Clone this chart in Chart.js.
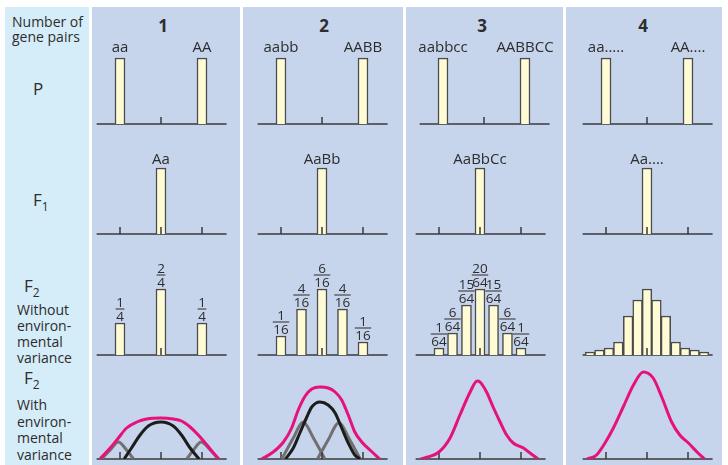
<!DOCTYPE html>
<html>
<head>
<meta charset="utf-8">
<script src="https://cdn.jsdelivr.net/npm/chart.js@4.4.0/dist/chart.umd.min.js"></script>
<style>
  body { margin: 0; width: 728px; height: 465px; position: relative; overflow: hidden; background: #fff;
         font-family: "Open Sans", sans-serif; color: #2d2d2d; }
  .side { position: absolute; left: 5px; top: 7px; width: 84px; height: 458px; background: #d5ecf9; }
  .col { position: absolute; top: 7px; height: 458px; background: #c6d4ec; }
  .t { position: absolute; white-space: nowrap; font-size: 14px; line-height: 16px; }
  .big { position: absolute; white-space: nowrap; font-size: 17px; line-height: 17px; }
  .big .sub { font-size: 12px; position: relative; top: 5px; }
  .head { position: absolute; width: 40px; text-align: center; font-size: 17px; line-height: 17px; font-weight: bold; top: 17px; }
  canvas { position: absolute; }
</style>
</head>
<body>
<div class="side"></div>
<div class="col" style="left:92px;width:148px"></div>
<div class="col" style="left:243px;width:160px"></div>
<div class="col" style="left:406px;width:157px"></div>
<div class="col" style="left:566px;width:156px"></div>

<div class="t" style="left:12px;top:13.6px">Number of</div>
<div class="t" style="left:12px;top:28.6px">gene pairs</div>
<div class="big" style="left:33px;top:80px">P</div>
<div class="big" style="left:33px;top:191px">F<span class="sub">1</span></div>
<div class="big" style="left:24px;top:277px">F<span class="sub">2</span></div>
<div class="t" style="left:17px;top:301.6px">Without</div>
<div class="t" style="left:17px;top:317.6px">environ-</div>
<div class="t" style="left:17px;top:333.6px">mental</div>
<div class="t" style="left:17px;top:349.6px">variance</div>
<div class="big" style="left:24px;top:369px">F<span class="sub">2</span></div>
<div class="t" style="left:17px;top:396.6px">With</div>
<div class="t" style="left:17px;top:413.6px">environ-</div>
<div class="t" style="left:17px;top:429.6px">mental</div>
<div class="t" style="left:17px;top:446.6px">variance</div>

<script>
// ---------------------------------------------------------------------------
// data
// ---------------------------------------------------------------------------
const pairCounts = ['1', '2', '3', '4'];

// P row
const parentLabels = [['aa', 'AA'], ['aabb', 'AABB'], ['aabbcc', 'AABBCC'], ['aa.....', 'AA....']];
const parentScores = [-1, 1];
const parentHeights = [66, 66];

// F1 row
const f1Labels = ['Aa', 'AaBb', 'AaBbCc', 'Aa....'];
const f1Scores = [0];
const f1Heights = [66];

// F2 without environmental variance
const f2Scores1 = [-1, 0, 1];
const f2Heights1 = [32, 66, 32];
const f2Fracs1 = ['1/4', '2/4', '1/4'];
const f2Scores2 = [-1, -0.5, 0, 0.5, 1];
const f2Heights2 = [19, 46, 66, 46, 13];
const f2Fracs2 = ['1/16', '4/16', '6/16', '4/16', '1/16'];
const f2Scores3 = [-1, -0.67, -0.33, 0, 0.33, 0.67, 1];
const f2Heights3 = [7, 22, 50, 66, 50, 22, 7];
const f2Fracs3 = ['1/64', '6/64', '15/64', '20/64', '15/64', '6/64', '1/64'];
const f2Scores4 = [-1.39, -1.16, -0.93, -0.7, -0.46, -0.23, 0, 0.23, 0.46, 0.7, 0.93, 1.16, 1.39];
const f2Heights4 = [3, 5, 7, 13, 39, 55, 66, 55, 39, 13, 7, 5, 3];

// F2 with environmental variance (curves)
const env1PinkX = [-1.49, -1.24, -1.04, -0.84, -0.59, -0.35, 0, 0.3, 0.5, 0.71, 0.91, 1.12, 1.28, 1.41];
const env1PinkY = [0, 11, 21, 31, 37, 40, 41, 40, 38, 32, 24, 14, 6, 0];
const env1BlackX = [-0.9, -0.72, -0.51, -0.31, 0, 0.3, 0.5, 0.71, 0.93];
const env1BlackY = [0, 11, 24, 33, 37, 33, 24, 11, 0];
const env1GrayLX = [-1.45, -1.24, -1.04, -0.84, -0.67];
const env1GrayLY = [0, 9, 17, 9, 0];
const env1GrayRX = [0.63, 0.79, 0.98, 1.2, 1.4];
const env1GrayRY = [0, 9, 17, 9, 0];

const env2PinkX = [-1.47, -1.19, -0.94, -0.74, -0.58, -0.41, -0.25, -0.05, 0.15, 0.32, 0.48, 0.64, 0.8, 0.97, 1.17, 1.41];
const env2PinkY = [0, 7, 17, 31, 49, 63, 70, 72, 71, 67, 59, 44, 27, 17, 9, 0];
const env2BlackX = [-0.89, -0.7, -0.54, -0.37, -0.25, -0.05, 0.15, 0.32, 0.48, 0.64, 0.8, 0.93];
const env2BlackY = [0, 11, 26, 42, 52, 57, 54, 46, 31, 16, 4, 0];
const env2GrayLX = [-0.98, -0.7, -0.46, -0.21, 0.07];
const env2GrayLY = [0, 21, 37, 21, 0];
const env2GrayRX = [-0.11, 0.15, 0.41, 0.68, 0.93];
const env2GrayRY = [0, 19, 36, 19, 0];

const env3PinkX = [-1.45, -1.27, -1.0, -0.73, -0.49, -0.24, -0.07, 0, 0.16, 0.32, 0.49, 0.65, 0.81, 1.06, 1.22, 1.42];
const env3PinkY = [0, 2, 7, 21, 44, 67, 78, 77, 67, 52, 37, 24, 16, 11, 6, 0];

const env4PinkX = [-1.46, -1.23, -1.01, -0.82, -0.58, -0.33, -0.09, 0.15, 0.36, 0.6, 0.8, 1.01, 1.22, 1.4];
const env4PinkY = [0, 4, 17, 31, 52, 74, 87, 81, 62, 37, 24, 16, 7, 0];

// ---------------------------------------------------------------------------
// layout / style
// ---------------------------------------------------------------------------
const UNIT = 41;                 // px per genotype step
const HALF = 75 / UNIT;          // canvas half width in steps
const AXIS_FROM = -1.57, AXIS_TO = 1.6;
const COL_CENTER = [161, 322, 480, 647];
const P_CENTER = [161, 322, 484, 647];
const HEAD_X = [163, 324, 482, 643];
const ROW = { p: [30, 96], f1: [145, 91], f2: [255, 102], env: [363, 98] };

const INK = '#2d2d2d';
const AXIS_COLOR = '#3a3a3a';
const BAR_FILL = '#fffbd5';
const BAR_BORDER = '#4a4a4a';
const PINK = '#e6127c';
const BLACK = '#1c1c1c';
const GRAY = '#707070';

pairCounts.forEach((n, i) => {
  const d = document.createElement('div');
  d.className = 'head';
  d.style.left = (HEAD_X[i] - 20) + 'px';
  d.textContent = n;
  document.body.appendChild(d);
});

function addCanvas(cx, top, h) {
  const c = document.createElement('canvas');
  c.width = 150; c.height = h;
  c.style.left = (cx - 75) + 'px';
  c.style.top = top + 'px';
  document.body.appendChild(c);
  return c;
}

function tick(ctx, x, y0) {
  ctx.beginPath();
  ctx.moveTo(x, y0);
  ctx.lineTo(x, y0 - 7);
  ctx.stroke();
}

// axis line, ticks and labels above bars
function decor(labels, kind, gap) {
  return {
    id: 'decor',
    beforeDatasetsDraw(chart) {
      const { ctx } = chart;
      const xs = chart.scales.x, y0 = chart.scales.y.getPixelForValue(0);
      ctx.save();
      ctx.strokeStyle = AXIS_COLOR;
      ctx.lineWidth = 1.5;
      ctx.beginPath();
      ctx.moveTo(xs.getPixelForValue(AXIS_FROM), y0);
      ctx.lineTo(xs.getPixelForValue(AXIS_TO), y0);
      ctx.stroke();
      tick(ctx, xs.getPixelForValue(-1), y0);
      tick(ctx, xs.getPixelForValue(1), y0);
      ctx.restore();
    },
    afterDatasetsDraw(chart) {
      const { ctx } = chart;
      const xs = chart.scales.x, y0 = chart.scales.y.getPixelForValue(0);
      ctx.save();
      ctx.strokeStyle = AXIS_COLOR;
      ctx.lineWidth = 1.5;
      tick(ctx, xs.getPixelForValue(0), y0);
      if (labels) {
        ctx.fillStyle = INK;
        ctx.strokeStyle = INK;
        ctx.textAlign = 'center';
        ctx.textBaseline = 'alphabetic';
        chart.getDatasetMeta(0).data.forEach((el, i) => {
          if (kind === 'text') {
            ctx.font = '15px "Open Sans"';
            ctx.fillText(labels[i], el.x, el.y - gap);
          } else {
            const [num, den] = labels[i].split('/');
            ctx.font = '13.5px "Open Sans"';
            const w = Math.max(ctx.measureText(num).width, ctx.measureText(den).width) + 1;
            ctx.fillText(den, el.x, el.y - 2.5);
            ctx.fillText(num, el.x, el.y - 16);
            ctx.lineWidth = 1;
            ctx.beginPath();
            ctx.moveTo(el.x - w / 2, el.y - 14);
            ctx.lineTo(el.x + w / 2, el.y - 14);
            ctx.stroke();
          }
        });
      }
      ctx.restore();
    }
  };
}

function options(h) {
  return {
    responsive: false,
    maintainAspectRatio: false,
    animation: false,
    events: [],
    layout: { padding: { left: 0, right: 0, top: 0, bottom: 2 } },
    plugins: { legend: { display: false }, tooltip: { enabled: false } },
    scales: {
      x: { type: 'linear', display: false, min: -HALF, max: HALF, offset: false },
      y: { display: false, min: 0, max: h - 2 }
    }
  };
}

function barChart(cx, row, scores, heights, labels, kind, gap, thickness) {
  const [top, h] = row;
  new Chart(addCanvas(cx, top, h), {
    type: 'bar',
    data: {
      datasets: [{
        data: scores.map((x, i) => ({ x, y: heights[i] })),
        backgroundColor: BAR_FILL,
        borderColor: BAR_BORDER,
        borderWidth: 1.5,
        barThickness: thickness
      }]
    },
    options: options(h),
    plugins: [decor(labels, kind, gap)]
  });
}

function curve(xs, ys, color) {
  return {
    data: xs.map((x, i) => ({ x, y: ys[i] })),
    borderColor: color,
    borderWidth: 3,
    pointRadius: 0,
    fill: false,
    cubicInterpolationMode: 'monotone'
  };
}

function curveChart(cx, row, datasets) {
  const [top, h] = row;
  new Chart(addCanvas(cx, top, h), {
    type: 'line',
    data: { datasets },
    options: options(h),
    plugins: [decor(null)]
  });
}

// P and F1 rows
for (let i = 0; i < 4; i++) {
  barChart(P_CENTER[i], ROW.p, parentScores, parentHeights, parentLabels[i], 'text', 6, 10);
  barChart(COL_CENTER[i], ROW.f1, f1Scores, f1Heights, [f1Labels[i]], 'text', 4, 10);
}

// F2 without environmental variance
barChart(COL_CENTER[0], ROW.f2, f2Scores1, f2Heights1, f2Fracs1, 'frac', 0, 10);
barChart(COL_CENTER[1], ROW.f2, f2Scores2, f2Heights2, f2Fracs2, 'frac', 0, 10);
barChart(COL_CENTER[2], ROW.f2, f2Scores3, f2Heights3, f2Fracs3, 'frac', 0, 10);
barChart(COL_CENTER[3], ROW.f2, f2Scores4, f2Heights4, null, 'frac', 0, 9.6);

// F2 with environmental variance
curveChart(COL_CENTER[0], ROW.env, [
  curve(env1PinkX, env1PinkY, PINK),
  curve(env1BlackX, env1BlackY, BLACK),
  curve(env1GrayLX, env1GrayLY, GRAY),
  curve(env1GrayRX, env1GrayRY, GRAY)
]);
curveChart(COL_CENTER[1], ROW.env, [
  curve(env2PinkX, env2PinkY, PINK),
  curve(env2BlackX, env2BlackY, BLACK),
  curve(env2GrayLX, env2GrayLY, GRAY),
  curve(env2GrayRX, env2GrayRY, GRAY)
]);
curveChart(COL_CENTER[2], ROW.env, [curve(env3PinkX, env3PinkY, PINK)]);
curveChart(COL_CENTER[3], ROW.env, [curve(env4PinkX, env4PinkY, PINK)]);
</script>
</body>
</html>
